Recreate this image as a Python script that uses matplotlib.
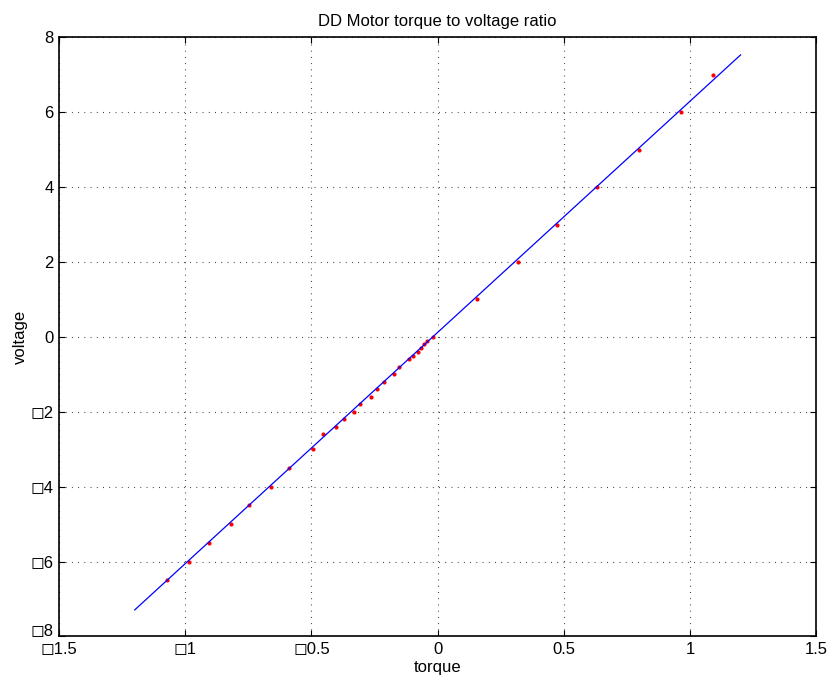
import matplotlib
matplotlib.use('Agg')
import matplotlib.pyplot as plt
import matplotlib.transforms as mtransforms
import numpy as np

plt.rcParams['font.family'] = ['Liberation Sans', 'DejaVu Sans']

# measured torque / voltage pairs
torque = [1.092, 0.962, 0.797, 0.631, 0.471, 0.320, 0.155, -0.020, -0.041,
          -0.054, -0.065, -0.079, -0.098, -0.115, -0.152, -0.173, -0.214,
          -0.242, -0.266, -0.306, -0.331, -0.372, -0.401, -0.454, -0.495,
          -0.589, -0.659, -0.746, -0.818, -0.906, -0.984, -1.071]
voltage = [7, 6, 5, 4, 3, 2, 1, 0, -0.1, -0.2, -0.3, -0.4, -0.5, -0.6, -0.8,
           -1.0, -1.2, -1.4, -1.6, -1.8, -2.0, -2.2, -2.4, -2.6, -3.0, -3.5,
           -4.0, -4.5, -5.0, -5.5, -6.0, -6.5]

# fitted line
fit_slope = 6.175
fit_offset = 0.12
fit_range = [-1.2, 1.2]

xticks = [-1.5, -1, -0.5, 0, 0.5, 1, 1.5]
yticks = [-8, -6, -4, -2, 0, 2, 4, 6, 8]

# minus sign shows up as a box glyph in the original
def lbl(v):
    s = ('%g' % abs(v))
    return ('\u25FB' + s) if v < 0 else s

fig = plt.figure(figsize=(8.33, 6.83), dpi=100)
ax = fig.add_axes([0.0708, 0.0681, 0.9092, 0.8773])

ax.plot(torque, voltage, 'o', color='red', markersize=3, markeredgewidth=0)
fx = np.linspace(fit_range[0], fit_range[1], 100)
ax.plot(fx, fit_slope * fx + fit_offset, color='blue', lw=0.9)

ax.set_xlim(-1.5, 1.5)
ax.set_ylim(-8, 8)
ax.set_xticks(xticks)
ax.set_yticks(yticks)
ax.set_xticklabels([lbl(v) for v in xticks])
ax.set_yticklabels([lbl(v) for v in yticks])

ax.grid(True, color='#333333', linestyle=(0, (0.8, 4.8)), lw=0.8)
ax.tick_params(direction='in', length=4.5, width=0.8, top=True, right=True,
               labelsize=12, pad=4)
for sp in ax.spines.values():
    sp.set_linewidth(1.2)

# nudge the bottom y label up a bit so it clears the corner x label
low = ax.get_yticklabels()[0]
low.set_transform(low.get_transform() +
                  mtransforms.ScaledTranslation(0, 5 / 72, fig.dpi_scale_trans))

ax.set_title('DD Motor torque to voltage ratio', fontsize=12, pad=8)
ax.set_xlabel('torque', fontsize=12, labelpad=2)
ax.set_ylabel('voltage', fontsize=12, labelpad=2)

fig.savefig('out.png', dpi=100, facecolor='white')
